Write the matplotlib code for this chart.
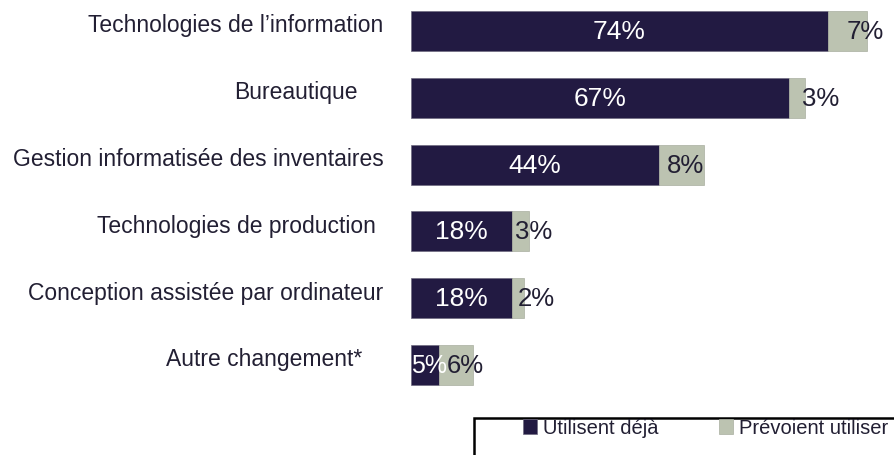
import matplotlib.pyplot as plt
from matplotlib.patches import Rectangle

plt.rcParams['font.family'] = ['Liberation Sans', 'DejaVu Sans']

# data
categories = ["Technologies de l\u2019information", "Bureautique",
              "Gestion informatisée des inventaires", "Technologies de production",
              "Conception assistée par ordinateur", "Autre changement*"]
deja = [74, 67, 44, 18, 18, 5]
prevoient = [7, 3, 8, 3, 2, 6]
series_names = ["Utilisent déjà", "Prévoient utiliser"]

dark = '#221a42'
light = '#bcc3b1'
text_col = '#221f33'

W, H = 895, 456
fig = plt.figure(figsize=(W / 100, H / 100), dpi=100)
ax = fig.add_axes([411 / W, 56 / H, (W - 411) / W, 400 / H])

ypos = list(range(len(categories)))
b1 = ax.barh(ypos, deja, height=0.6, color=dark, edgecolor='#6e6a80', linewidth=0.5)
b2 = ax.barh(ypos, prevoient, left=deja, height=0.6, color=light, edgecolor='#a9ae9f', linewidth=0.5)

ax.set_xlim(0, (W - 411) / 5.635)
ax.set_ylim(5.509, -0.479)
ax.axis('off')

# category labels (right edges in pixels, slightly uneven like the source)
right_edges = [383, 358, 384, 376, 383, 362]
for i, (cat, r) in enumerate(zip(categories, right_edges)):
    ax.annotate(cat, xy=(0, i), xycoords='data', xytext=(r - 411, 6),
                textcoords='offset pixels', ha='right', va='center',
                fontsize=16.5, color=text_col)

# value labels
for i, (d, p) in enumerate(zip(deja, prevoient)):
    if d >= 10:
        ax.text(d / 2, i, f"{d}%", ha='center', va='center', fontsize=19, color='white')
    else:
        ax.text(0, i, f"{d}%", ha='left', va='center', fontsize=18, color='white')
plus = [3.3, 2.3, 1.4, 0.5, 0.9, 1.3]
for i, (d, p, o) in enumerate(zip(deja, prevoient, plus)):
    ax.text(d + o, i, f"{p}%", ha='left', va='center', fontsize=18.5, color=text_col)

# legend box
fig.patches.append(Rectangle((474 / W, -0.1), 1.0, 37 / H + 0.1, transform=fig.transFigure,
                             facecolor='white', edgecolor='black', linewidth=1.8))
fig.legend([b1, b2], series_names, loc='center left', ncol=2,
           bbox_to_anchor=(523 / W, 27 / H), frameon=False, fontsize=14.5,
           handlelength=0.7, handleheight=0.7, handletextpad=0.3,
           columnspacing=3.0, borderpad=0, borderaxespad=0, labelcolor=text_col)

fig.savefig('out.png', dpi=100)
